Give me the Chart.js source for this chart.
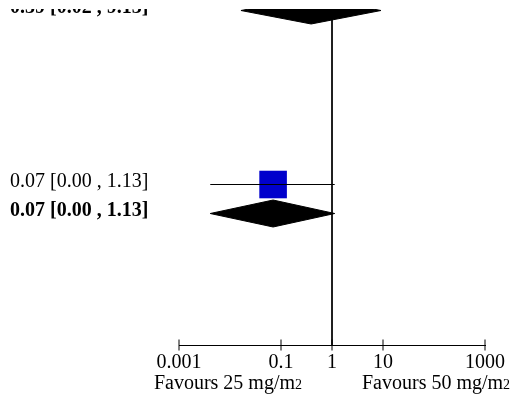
<!DOCTYPE html>
<html><head><meta charset="utf-8">
<script src="https://cdn.jsdelivr.net/npm/chart.js@4"></script>
<style>html,body{margin:0;padding:0;background:#fff}#wrap{width:518px;height:396px;position:relative}</style>
</head><body><div id="wrap"><canvas id="c"></canvas></div>
<script>
// ---- data ----
const rowPositions = [0, 6, 7];
const rowKinds = ['summary', 'study', 'summary'];
const estimates = [0.39, 0.07, 0.07];
const lowerCI = [0.0164, 0.0041, 0.0041];
const upperCI = [9.13, 1.13, 1.13];
const ciLabels = ['0.39 [0.02 , 9.13]', '0.07 [0.00 , 1.13]', '0.07 [0.00 , 1.13]'];
const tickValues = [0.001, 0.1, 1, 10, 1000];
const tickLabels = ['0.001', '0.1', '1', '10', '1000'];
const favourLabels = ['Favours 25 mg/m', 'Favours 50 mg/m'];
const favourSup = '2';
const nullValue = 1;

// ---- layout/style ----
const Y_MIN = -0.052, Y_MAX = 11.534;
const DIAMOND_HALF = 0.465;
const FONT = "'Liberation Serif', 'Times New Roman', serif";

const datasets = [];
datasets.push({data: [{x: nullValue, y: Y_MIN - 1}, {x: nullValue, y: Y_MAX}], showLine: true,
  borderColor: '#000', borderWidth: 1, pointRadius: 0});
rowPositions.forEach((r, i) => {
  if (rowKinds[i] === 'study') {
    datasets.push({data: [{x: lowerCI[i], y: r}, {x: upperCI[i], y: r}], showLine: true,
      borderColor: '#000', borderWidth: 1, pointRadius: 0});
    datasets.push({data: [{x: estimates[i], y: r}], pointStyle: 'rect', pointRadius: 19.5,
      pointBackgroundColor: '#0000CC', pointBorderColor: '#0000CC', pointBorderWidth: 0});
  } else {
    datasets.push({data: [{x: lowerCI[i], y: r}, {x: estimates[i], y: r - DIAMOND_HALF}, {x: upperCI[i], y: r}],
      showLine: true, borderColor: '#000', borderWidth: 1, backgroundColor: '#000', fill: '+1', pointRadius: 0});
    datasets.push({data: [{x: lowerCI[i], y: r}, {x: estimates[i], y: r + DIAMOND_HALF}, {x: upperCI[i], y: r}],
      showLine: true, borderColor: '#000', borderWidth: 1, fill: false, pointRadius: 0});
  }
});
datasets.push({data: tickValues.map(v => ({x: v, y: Y_MAX})), pointStyle: 'line', pointRotation: 90,
  pointRadius: 5.5, pointBorderColor: '#000', pointBorderWidth: 1, clip: false});

const textPlugin = {
  id: 'forestText',
  afterDraw(chart) {
    const ctx = chart.ctx, ys = chart.scales.y, xs = chart.scales.x, ca = chart.chartArea;
    ctx.save();
    ctx.beginPath();
    ctx.rect(0, ca.top, chart.width, chart.height - ca.top);
    ctx.clip();
    ctx.fillStyle = '#000';
    ctx.textAlign = 'left';
    ctx.textBaseline = 'alphabetic';
    rowPositions.forEach((r, i) => {
      ctx.font = (rowKinds[i] === 'summary' ? 'bold ' : '') + '20px ' + FONT;
      ctx.fillText(ciLabels[i], 10, ys.getPixelForValue(r) + 2.5);
    });
    ctx.restore();

    ctx.save();
    ctx.fillStyle = '#000';
    ctx.textBaseline = 'alphabetic';
    const base = xs.top + 44;
    const px = xs.getPixelForValue(nullValue);
    ctx.font = '14px ' + FONT;
    const supW = ctx.measureText(favourSup).width;
    ctx.textAlign = 'right';
    ctx.fillText(favourSup, px - 30, base);
    ctx.font = '20px ' + FONT;
    ctx.fillText(favourLabels[0], px - 30 - supW, base);
    ctx.textAlign = 'left';
    const mainW = ctx.measureText(favourLabels[1]).width;
    ctx.fillText(favourLabels[1], px + 30, base);
    ctx.font = '14px ' + FONT;
    ctx.fillText(favourSup, px + 30 + mainW, base);
    ctx.restore();
  }
};

new Chart(document.getElementById('c'), {
  type: 'scatter',
  data: {datasets},
  options: {
    responsive: true, maintainAspectRatio: false, animation: false, events: [],
    layout: {autoPadding: false, padding: {top: 9, bottom: 15, left: 179, right: 33}},
    plugins: {legend: {display: false}, tooltip: {enabled: false}},
    scales: {
      x: {
        type: 'logarithmic', min: 0.001, max: 1000,
        afterBuildTicks: s => { s.ticks = tickValues.map(v => ({value: v})); },
        ticks: {autoSkip: false, maxRotation: 0, padding: 6, color: '#000',
          font: {family: FONT, size: 20}, callback: (v, i) => tickLabels[i]},
        grid: {display: false, drawTicks: false, tickLength: 0},
        border: {display: true, color: '#000', width: 1}
      },
      y: {display: false, reverse: true, min: Y_MIN, max: Y_MAX}
    }
  },
  plugins: [textPlugin]
});
</script></body></html>
